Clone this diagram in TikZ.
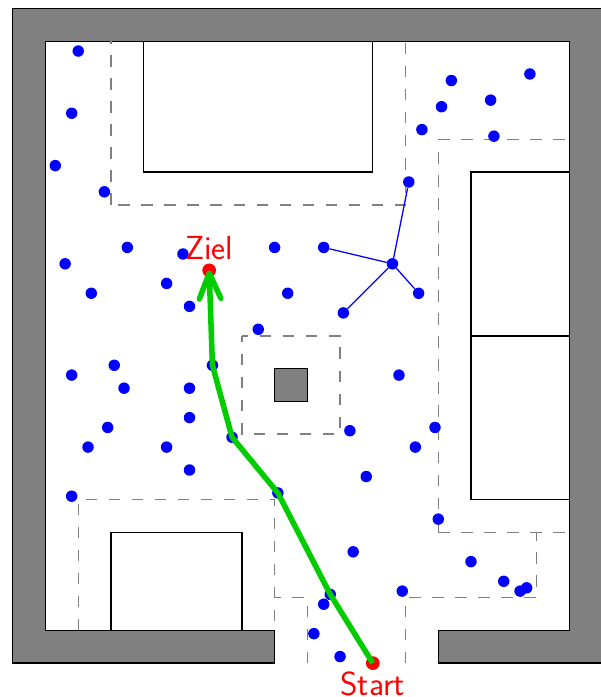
\documentclass[tikz,border=0pt]{standalone}
\usepackage{fontspec}
\usetikzlibrary{arrows.meta}
\definecolor{wallgray}{HTML}{808080}
\definecolor{treeblue}{HTML}{0000FF}
\definecolor{pathgreen}{HTML}{00CC00}
\definecolor{markred}{HTML}{FF0000}

\begin{document}
\begin{tikzpicture}[
  wall/.style={draw=black, fill=wallgray, line width=1.2pt},
  room/.style={draw=black, line width=1.2pt},
  margin/.style={wallgray, line width=1.2pt, dash pattern=on 0.352cm off 0.352cm},
  sample/.style={circle, fill=treeblue, inner sep=0pt, minimum size=0.35cm},
  link/.style={treeblue, line width=1.1pt},
  endpoint/.style={circle, fill=markred, inner sep=0pt, minimum size=0.42cm},
  route/.style={-{Straight Barb[length=0.78cm, width=0.66cm, round]}, pathgreen, line width=4.8pt, line join=round},
  tag/.style={text=markred, font=\fontsize{29}{32}\selectfont\sffamily, inner sep=0pt, anchor=base}
]
  \useasboundingbox (-0.39,-1.035) rectangle (17.965,20.26);

  % Walls
  \draw[wall] (8,0) -- (0,0) -- (0,20) -- (18,20) -- (18,0) -- (13,0) -- (13,1)
    -- (17,1) -- (17,19) -- (1,19) -- (1,1) -- (8,1) -- cycle;
  \draw[wall] (8,8) rectangle (9,9);

  % Rooms
  \draw[room] (4,15) rectangle (11,19);
  \draw[room] (14,15) rectangle (17,10);
  \draw[room] (14,10) rectangle (17,5);
  \draw[room] (3,1) rectangle (7,4);

  % Safety margins
  \draw[margin] (3,14) -- (3,19);
  \draw[margin, dash phase=0.48cm] (3,14) -- (12,14) -- (12,19);
  \draw[margin] (13,4) -- (13,16);
  \draw[margin] (13,4) -- (17,4);
  \draw[margin, dash phase=0.57cm] (17,16) -- (13,16);
  \draw[margin, dash phase=0.164cm] (7,10) -- (10,10) -- (10,7) -- (7,7) -- (7,10);
  \draw[margin] (2,1) -- (2,5) -- (8,5) -- (8,1);
  \draw[margin] (9,0) -- (9,2) -- (8,2);
  \draw[margin] (12,0) -- (12,2) -- (16,2) -- (16,4);

  % Samples
  \foreach \i/\pos in {1/{2,18.7}, 2/{1.8,16.8}, 3/{1.3,15.2}, 4/{2.8,14.4}, 5/{3.5,12.7},
    6/{1.6,12.2}, 7/{2.4,11.3}, 8/{5.2,12.5}, 9/{4.7,11.6}, 10/{5.4,10.9}, 11/{8,12.7},
    12/{8.4,11.3}, 13/{7.5,10.2}, 14/{13.4,17.8}, 15/{15.8,18}, 16/{14.6,17.2},
    17/{13.1,17}, 18/{12.5,16.3}, 19/{14.7,16.1}, 20/{1.8,8.8}, 21/{3.1,9.1},
    22/{3.4,8.4}, 23/{5.4,8.4}, 24/{5.4,7.5}, 25/{2.9,7.2}, 26/{2.3,6.6}, 27/{4.7,6.6},
    28/{5.4,5.9}, 29/{1.8,5.1}, 30/{11.8,8.8}, 31/{10.3,7.1}, 32/{12.9,7.2}, 33/{12.3,6.6},
    34/{10.8,5.7}, 35/{13,4.4}, 36/{10.4,3.4}, 37/{14,3.1}, 38/{15,2.5}, 39/{15.7,2.3},
    40/{15.5,2.2}, 41/{11.9,2.2}, 42/{9.5,1.8}, 43/{9.2,0.9}, 44/{10,0.2}}
    \node[sample] (s\i) at (\pos) {};

  % Tree
  \node[sample] (hub) at (11.6,12.2) {};
  \node[sample] (leafa) at (9.5,12.7) {};
  \node[sample] (leafb) at (12.1,14.7) {};
  \node[sample] (leafc) at (12.4,11.3) {};
  \node[sample] (leafd) at (10.1,10.7) {};
  \draw[link] (hub) -- (leafa);
  \draw[link] (hub) -- (leafb);
  \draw[link] (hub) -- (leafc);
  \draw[link] (hub) -- (leafd);

  % Path
  \node[endpoint] (start) at (11,0) {};
  \node[endpoint] (goal) at (6,12) {};
  \node[sample] (via1) at (9.7,2.1) {};
  \node[sample] (via2) at (8.1,5.2) {};
  \node[sample] (via3) at (6.7,6.9) {};
  \node[sample] (via4) at (6.1,9.1) {};
  \draw[route] (start.center) -- (via1.center) -- (via2.center) -- (via3.center)
    -- (via4.center) -- (goal.center);

  \node[tag] (goallabel) at (6,12.33) {Ziel};
  \node[tag] (startlabel) at (11,-0.99) {Start};
\end{tikzpicture}
\end{document}
